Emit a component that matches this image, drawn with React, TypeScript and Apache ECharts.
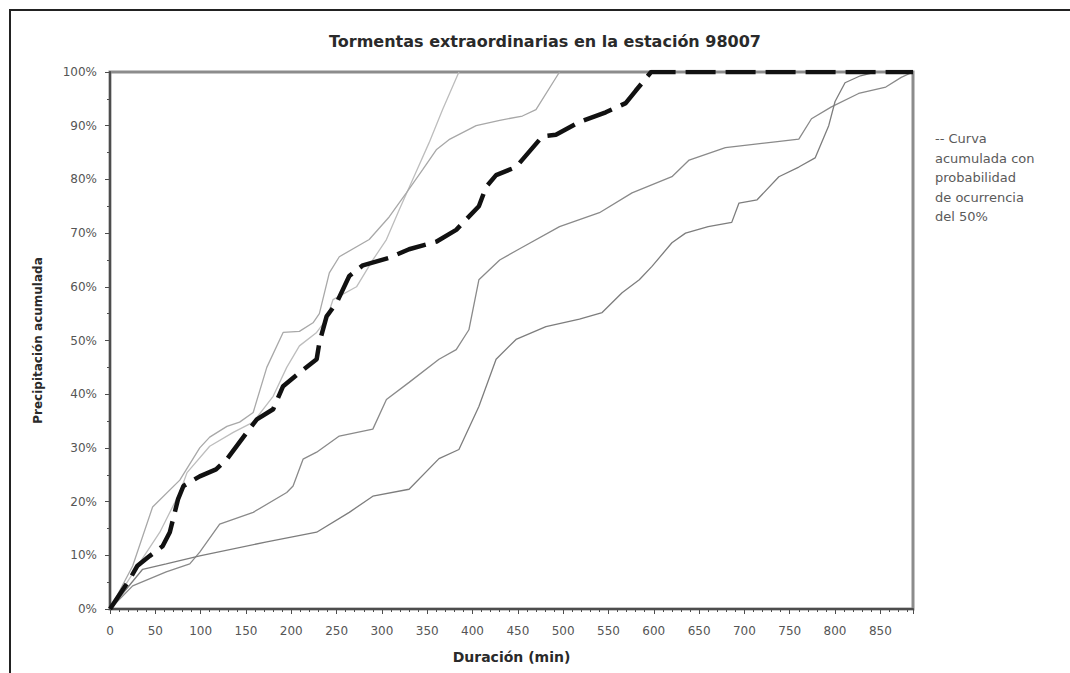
import React, { useEffect, useRef } from "react";
import * as echarts from "echarts";

const TITLE = "Tormentas extraordinarias en la estación 98007";
const X_NAME = "Duración (min)";
const Y_NAME = "Precipitación acumulada";
const LEGEND_LINES = ["-- Curva", "acumulada con", "probabilidad", "de ocurrencia", "del 50%"];
const MEDIAN_NAME = "Curva acumulada con probabilidad de ocurrencia del 50%";

const X_MAX = 886;

// Curve with 50 % probability of occurrence (black, dashed)
const medianMin = [0, 22, 30, 44, 58, 66, 75, 81, 99, 117, 129, 151, 162, 180, 191, 209, 228, 231, 239, 250, 264, 279, 308, 330, 360, 382, 407, 415, 426, 448, 477, 492, 518, 547, 569, 580, 597, 886];
const medianPct = [0, 5.6, 8, 9.9, 11.7, 14.3, 20.4, 22.9, 24.7, 26, 27.9, 32.9, 35.3, 37.2, 41.5, 44, 46.5, 49.6, 54.5, 57, 62, 64, 65.4, 67, 68.4, 70.6, 75, 78.6, 80.8, 82.3, 88, 88.3, 90.7, 92.5, 94.2, 96.5, 100, 100];

// Storm A (finishes at ~385 min)
const stormAMin = [0, 33, 55, 77, 85, 110, 136, 158, 180, 195, 209, 228, 239, 246, 272, 290, 305, 319, 334, 352, 367, 385];
const stormAPct = [0, 8.7, 14.3, 21.7, 25.4, 30.3, 32.9, 34.8, 39.6, 45, 49, 51.5, 54, 57.6, 60, 65, 68.8, 74.3, 80, 86.8, 93, 100];

// Storm B (finishes at ~496 min)
const stormBMin = [0, 25, 47, 77, 99, 110, 129, 143, 158, 173, 191, 209, 224, 231, 242, 253, 286, 308, 327, 345, 360, 374, 404, 430, 455, 470, 496];
const stormBPct = [0, 8, 19, 24, 30, 32, 34, 34.8, 36.6, 45, 51.5, 51.7, 53.3, 55, 62.6, 65.6, 68.8, 73, 77.5, 81.8, 85.5, 87.4, 90, 91, 91.8, 93, 100];

// Storm C (finishes at ~886 min)
const stormCMin = [0, 25, 62, 88, 99, 121, 158, 195, 202, 213, 228, 253, 290, 305, 330, 363, 382, 396, 407, 430, 451, 496, 540, 576, 620, 639, 679, 734, 760, 774, 796, 826, 856, 873, 886];
const stormCPct = [0, 4.3, 6.9, 8.4, 10.6, 15.8, 18, 21.7, 22.9, 27.9, 29.2, 32.2, 33.5, 39, 42.2, 46.5, 48.3, 52, 61.3, 65, 67, 71.2, 73.8, 77.5, 80.5, 83.6, 85.9, 87, 87.5, 91.3, 93.5, 96, 97.2, 99, 100];

// Storm D (finishes at ~845 min)
const stormDMin = [0, 36, 62, 99, 173, 228, 264, 290, 330, 363, 385, 407, 426, 448, 481, 518, 543, 565, 584, 598, 620, 635, 660, 686, 694, 714, 738, 760, 778, 793, 800, 811, 828, 845];
const stormDPct = [0, 7.4, 8.4, 9.9, 12.5, 14.3, 18, 21, 22.3, 28, 29.7, 37.7, 46.5, 50.2, 52.6, 54, 55.2, 58.9, 61.3, 63.8, 68.2, 70, 71.2, 72, 75.6, 76.2, 80.5, 82.3, 84, 90, 94.5, 98, 99.3, 100];

const pair = (xs: number[], ys: number[]) => xs.map((x, i) => [x, ys[i]]);

const FONT = '"DejaVu Sans", sans-serif';

export default function App() {
  const ref = useRef<HTMLDivElement>(null);

  useEffect(() => {
    if (!ref.current) return;
    const chart = echarts.init(ref.current, null, { renderer: "svg" });

    const grey = (name: string, xs: number[], ys: number[], color: string) => ({
      name,
      type: "line",
      data: pair(xs, ys),
      showSymbol: false,
      symbol: "none",
      silent: true,
      lineStyle: { color, width: 1.3 },
      emphasis: { disabled: true },
      z: 2,
    });

    chart.setOption({
      animation: false,
      backgroundColor: "#ffffff",
      title: {
        text: TITLE,
        left: 540,
        textAlign: "center",
        top: 28,
        textStyle: { fontFamily: FONT, fontSize: 16, fontWeight: "bold", color: "#2a2a2a" },
      },
      grid: {
        left: 110,
        right: 157,
        top: 72,
        bottom: 64,
        show: true,
        borderColor: "#8c8c8c",
        borderWidth: 3,
        backgroundColor: "#ffffff",
      },
      xAxis: {
        type: "value",
        min: 0,
        max: X_MAX,
        interval: 50,
        name: X_NAME,
        nameLocation: "middle",
        nameGap: 41,
        nameTextStyle: { fontFamily: FONT, fontSize: 14, fontWeight: "bold", color: "#2a2a2a" },
        axisLine: { show: true, lineStyle: { color: "#4d4d4d", width: 2 } },
        axisTick: { show: true, length: 5, lineStyle: { color: "#4d4d4d" } },
        minorTick: { show: true, splitNumber: 5, length: 3, lineStyle: { color: "#4d4d4d" } },
        axisLabel: {
          margin: 16,
          fontFamily: FONT,
          fontSize: 12,
          color: "#555555",
          showMaxLabel: false,
        },
        splitLine: { show: false },
      },
      yAxis: {
        type: "value",
        min: 0,
        max: 100,
        interval: 10,
        name: Y_NAME,
        nameLocation: "middle",
        nameGap: 66,
        nameTextStyle: { fontFamily: FONT, fontSize: 12, fontWeight: "bold", color: "#2a2a2a" },
        axisLine: { show: true, lineStyle: { color: "#4d4d4d", width: 2 } },
        axisTick: { show: true, length: 5, lineStyle: { color: "#4d4d4d" } },
        minorTick: { show: true, splitNumber: 2, length: 3, lineStyle: { color: "#4d4d4d" } },
        axisLabel: {
          margin: 13,
          fontFamily: FONT,
          fontSize: 12,
          color: "#555555",
          formatter: (v: number) => `${v}%`,
        },
        splitLine: { show: false },
      },
      graphic: [
        {
          type: "polyline",
          silent: true,
          shape: { points: [[10, 673], [10, 10], [1070, 10]] },
          style: { stroke: "#222222", lineWidth: 2, fill: null },
        },
        {
          type: "text",
          left: 935,
          top: 129,
          silent: true,
          style: {
            text: LEGEND_LINES.join("\n"),
            fill: "#5a5a5a",
            font: `13px ${FONT}`,
            lineHeight: 19.5,
          },
        },
      ],
      series: [
        grey("Tormenta A", stormAMin, stormAPct, "#bdbdbd"),
        grey("Tormenta B", stormBMin, stormBPct, "#a8a8a8"),
        grey("Tormenta C", stormCMin, stormCPct, "#8a8a8a"),
        grey("Tormenta D", stormDMin, stormDPct, "#7d7d7d"),
        {
          name: MEDIAN_NAME,
          type: "line",
          data: pair(medianMin, medianPct),
          showSymbol: false,
          symbol: "none",
          silent: true,
          emphasis: { disabled: true },
          lineStyle: { color: "#111111", width: 4.5, type: [30, 10] },
          z: 5,
        },
      ],
    });

    return () => chart.dispose();
  }, []);

  return (
    <div
      ref={ref}
      style={{ position: "fixed", left: 0, top: 0, width: 1070, height: 673, background: "#fff" }}
    />
  );
}
